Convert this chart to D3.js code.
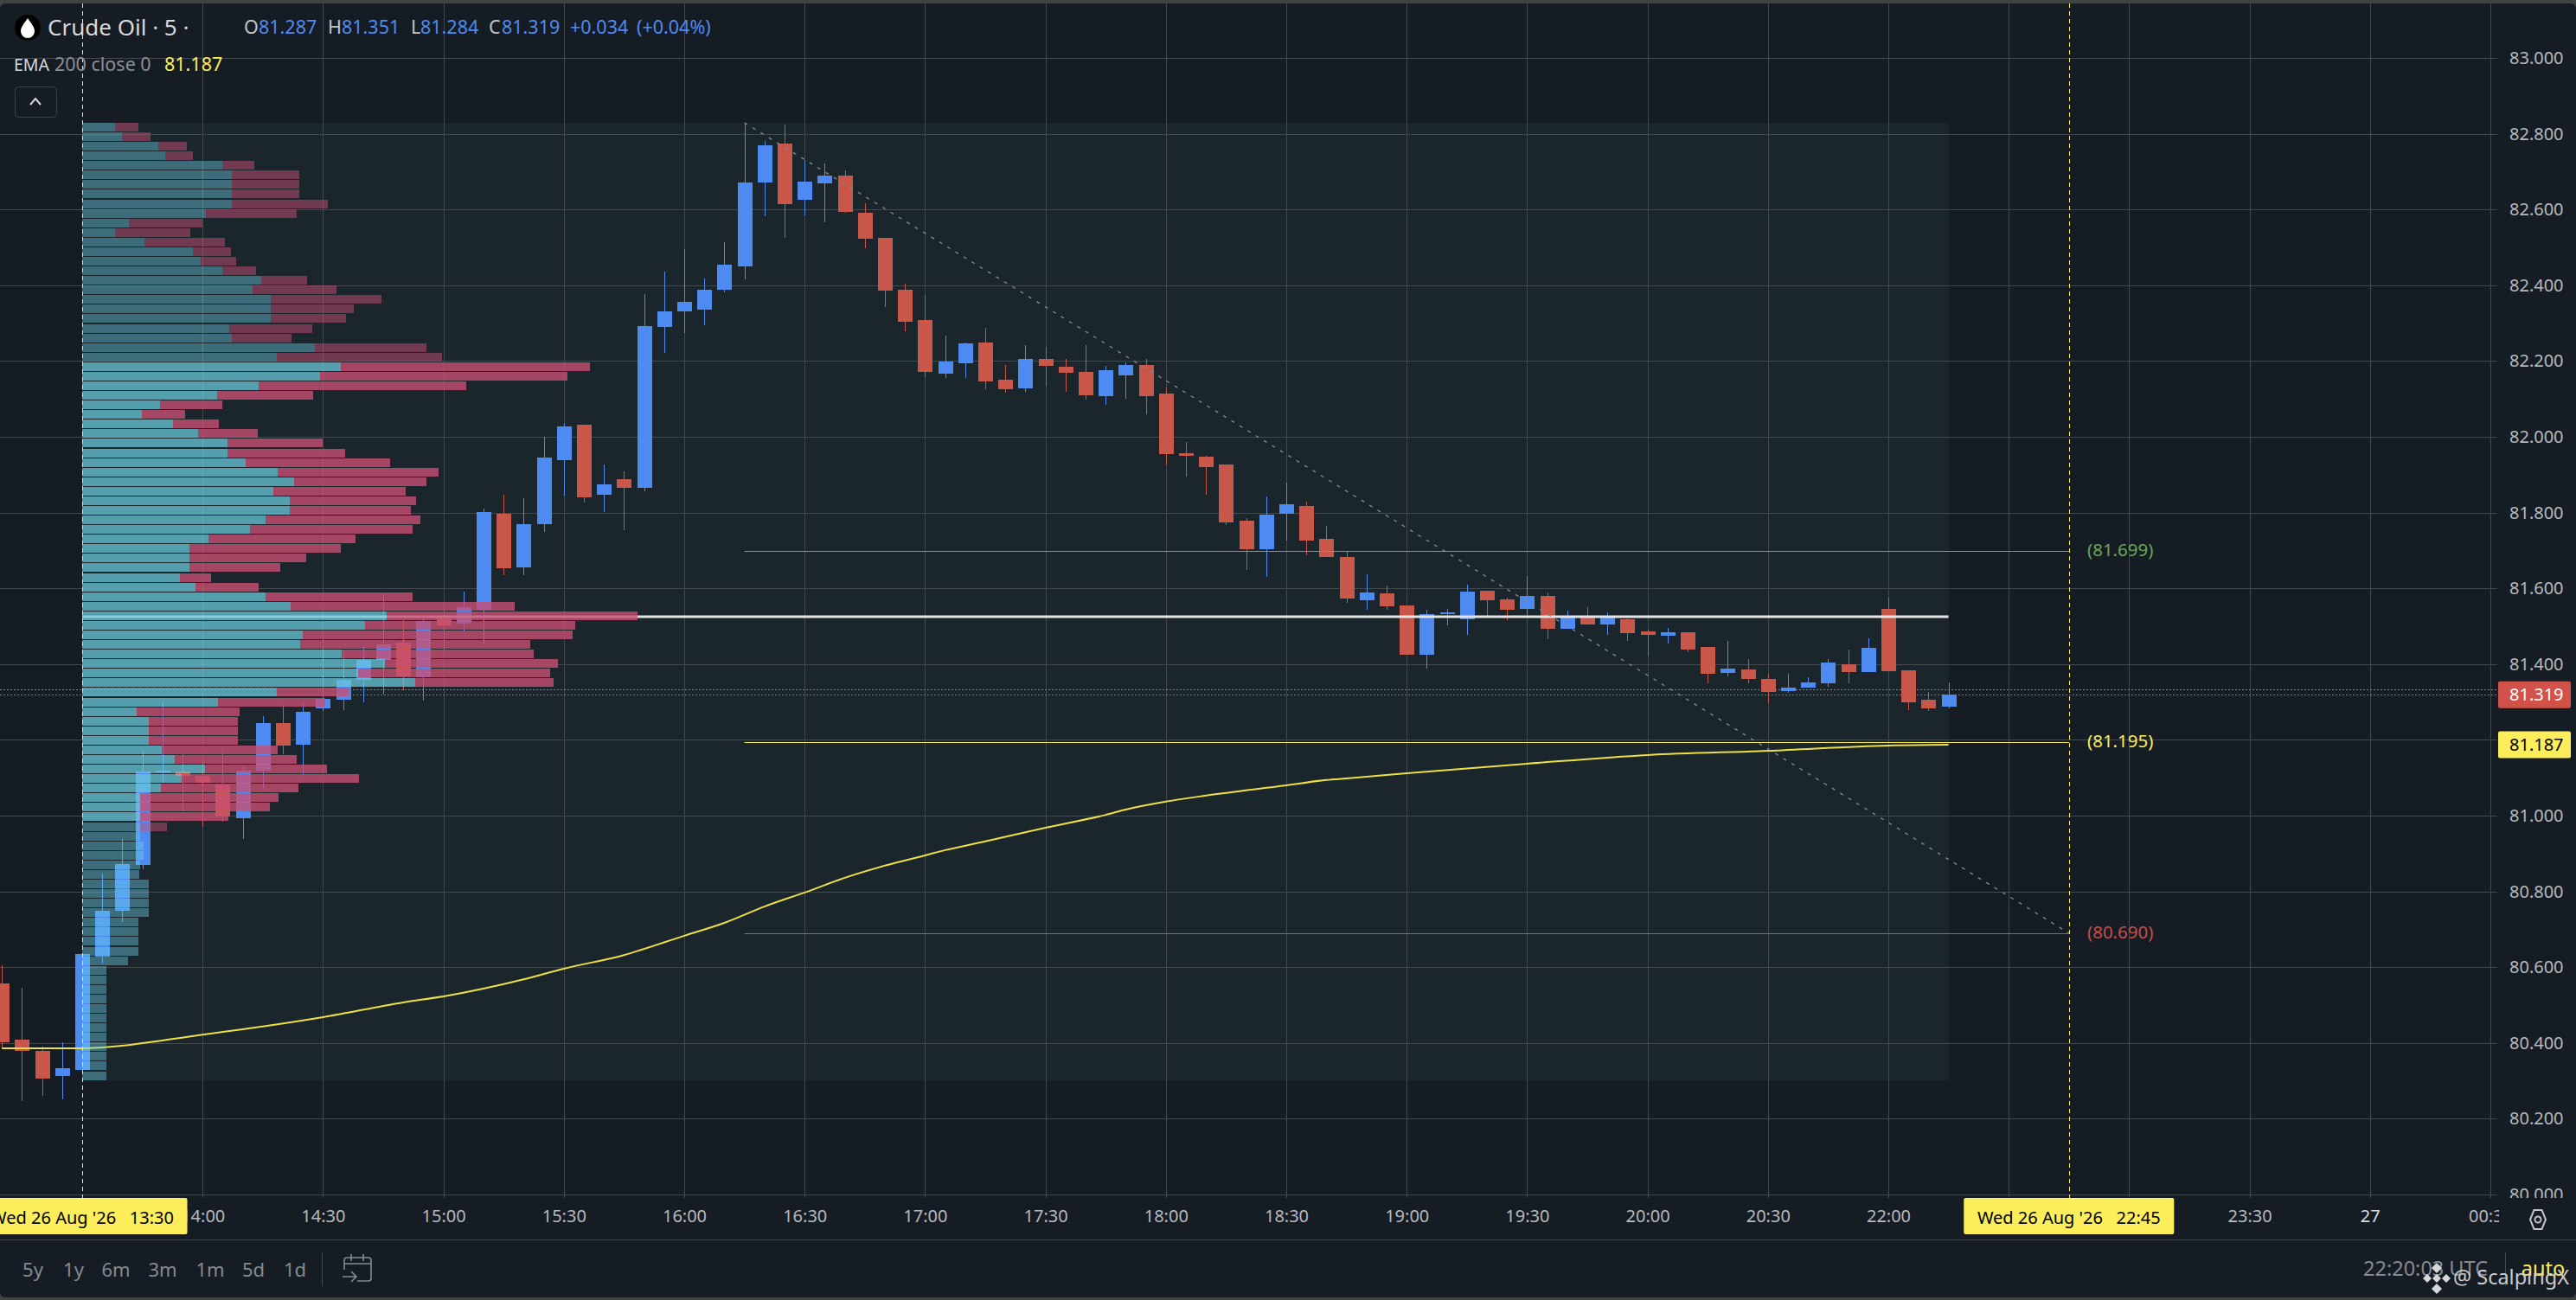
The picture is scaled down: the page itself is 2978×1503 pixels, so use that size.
<!DOCTYPE html>
<html>
<head>
<meta charset="utf-8">
<title>Crude Oil 5</title>
<script src="https://d3js.org/d3.v7.min.js"></script>
<style>
	html, body { margin: 0; padding: 0; background: #3f4342; overflow: hidden; }
	svg { display: block; }
	text { font-family: "Noto Sans", sans-serif; white-space: pre; }
</style>
</head>
<body>
<div id="chart"></div>
<script>
// candles, first one is 4 bars before 13:30
var firstBar = -4;
var opens = [80.557,80.409,80.379,80.313,80.329,80.628,80.749,80.870,81.114,81.116,81.105,81.082,80.993,81.119,81.244,81.187,81.283,81.306,81.358,81.411,81.457,81.365,81.521,81.507,81.543,81.797,81.655,81.769,81.938,82.032,81.847,81.888,81.865,82.290,82.331,82.336,82.388,82.450,82.671,82.774,82.626,82.669,82.689,82.591,82.525,82.388,82.308,82.167,82.194,82.249,82.151,82.128,82.205,82.185,82.171,82.107,82.162,82.189,82.114,81.957,81.947,81.927,81.779,81.703,81.797,81.817,81.731,81.683,81.569,81.587,81.555,81.425,81.532,81.518,81.594,81.571,81.546,81.580,81.493,81.527,81.505,81.518,81.486,81.475,81.484,81.445,81.377,81.386,81.361,81.329,81.338,81.349,81.400,81.379,81.546,81.384,81.306,81.287];
var highs = [80.605,80.546,80.390,80.402,80.635,80.847,80.938,81.171,81.301,81.162,81.144,81.176,81.130,81.263,81.292,81.299,81.477,81.434,81.445,81.584,81.516,81.521,81.555,81.591,81.811,81.847,81.838,82.000,82.037,82.032,81.927,81.909,82.377,82.436,82.495,82.418,82.514,82.829,82.781,82.824,82.731,82.721,82.703,82.616,82.525,82.404,82.374,82.267,82.249,82.288,82.189,82.242,82.237,82.205,82.242,82.187,82.196,82.205,82.130,81.986,81.950,81.927,81.785,81.842,81.879,81.829,81.765,81.696,81.637,81.607,81.555,81.543,81.546,81.610,81.594,81.575,81.632,81.589,81.541,81.550,81.537,81.521,81.491,81.495,81.484,81.445,81.461,81.413,81.374,81.374,81.365,81.413,81.438,81.468,81.575,81.384,81.327,81.351];
var lows = [80.386,80.247,80.260,80.251,80.329,80.610,80.719,80.858,81.087,81.011,80.970,80.984,80.938,81.068,81.162,81.105,81.276,81.279,81.299,81.320,81.331,81.304,81.434,81.486,81.452,81.635,81.635,81.749,81.845,81.826,81.801,81.753,81.856,82.221,82.274,82.295,82.381,82.416,82.582,82.525,82.584,82.566,82.591,82.498,82.342,82.279,82.158,82.155,82.155,82.126,82.116,82.119,82.135,82.119,82.098,82.084,82.100,82.059,81.927,81.895,81.847,81.767,81.648,81.630,81.726,81.687,81.683,81.562,81.543,81.543,81.425,81.388,81.502,81.477,81.527,81.516,81.530,81.466,81.493,81.505,81.477,81.461,81.422,81.454,81.432,81.349,81.368,81.349,81.297,81.324,81.338,81.340,81.349,81.379,81.381,81.279,81.276,81.284];
var closes = [80.402,80.379,80.306,80.333,80.635,80.749,80.872,81.116,81.119,81.105,81.087,80.998,81.119,81.244,81.185,81.274,81.308,81.358,81.411,81.452,81.368,81.514,81.502,81.550,81.801,81.653,81.769,81.945,82.027,81.840,81.874,81.865,82.292,82.331,82.356,82.388,82.454,82.671,82.769,82.614,82.674,82.689,82.594,82.523,82.386,82.304,82.171,82.199,82.247,82.146,82.126,82.205,82.187,82.169,82.110,82.176,82.189,82.107,81.954,81.950,81.920,81.774,81.703,81.795,81.822,81.726,81.683,81.573,81.589,81.553,81.425,81.532,81.537,81.591,81.569,81.543,81.580,81.493,81.527,81.505,81.527,81.482,81.477,81.484,81.438,81.374,81.388,81.361,81.327,81.338,81.352,81.404,81.379,81.443,81.381,81.299,81.283,81.319];

var emaBars = [-4,0,1,6,8,12,16,18,22,24,27,30,32,34,35,36,38,40,42,43,45,48,51,52,54,56,60,62,63,66,72,78,84,90,93];
var emaValues = [80.386,80.386,80.388,80.422,80.436,80.468,80.507,80.523,80.568,80.596,80.632,80.683,80.717,80.760,80.779,80.797,80.836,80.868,80.895,80.909,80.932,80.968,81.002,81.016,81.037,81.053,81.080,81.094,81.098,81.112,81.137,81.160,81.171,81.185,81.187];

// volume profile, top row first
var upVolume = [38,46,88,96,162,173,173,173,173,143,54,38,72,128,137,162,207,197,218,218,218,170,173,269,225,299,275,204,156,90,69,105,134,168,168,189,226,245,221,240,240,212,194,146,124,124,124,113,131,212,241,352,327,255,252,300,350,319,385,225,157,63,77,77,77,92,107,142,115,91,67,67,67,67,67,71,71,67,66,77,77,77,77,65,65,65,65,53,28,28,28,28,28,28,28,28,28,28,28,28];
var downVolume = [27,33,33,32,37,78,78,78,111,105,85,87,93,44,41,39,53,97,128,96,87,96,69,129,191,288,286,240,111,72,50,53,69,110,136,167,186,153,153,146,140,179,188,170,175,135,105,36,73,170,259,290,243,312,266,222,200,222,160,84,124,119,103,103,103,134,141,141,205,159,160,150,102,31,0,0,0,0,0,0,0,0,0,0,0,0,0,0,0,0,0,0,0,0,0,0,0,0,0,0];
var valueAreaRows = [25, 72];
var profileRange = [82.829, 80.300];
var pocPrice = 81.525;

// levels and the drawing
var levelPrices = [81.699, 81.195, 80.690];
var levelLabels = ["(81.699)", "(81.195)", "(80.690)"];
var levelColors = ["#6aa659", "#fcee5a", "#c44f4b"];
var levelStartBar = 33;
var rangeEndBar = 99;
var rangeStartBar = 0;
var diagonalBars = [33, 99];
var diagonalPrices = [82.829, 80.690];

// axes
var priceTicks = [80.0,80.2,80.4,80.6,80.8,81.0,81.2,81.4,81.6,81.8,82.0,82.2,82.4,82.6,82.8,83.0];
var timeTickBars = [6,12,18,24,30,36,42,48,54,60,66,72,78,84,90,96,102,108,114,120];
var timeTickLabels = ["14:00","14:30","15:00","15:30","16:00","16:30","17:00","17:30","18:00","18:30","19:00","19:30","20:00","20:30","22:00","22:30","23:00","23:30","27","00:30"];
var rangeButtons = ["5y","1y","6m","3m","1m","5d","1d"];
var rangeButtonX = [38,85,134,188,243,293,341];

var lastPrice = 81.319, prevClosePrice = 81.333, emaPrice = 81.187;

var width = 2978, height = 1503,
	paneRight = 2887, paneTop = 4, paneBottom = 1385, axisBottom = 1433;

var colors = {
	bg: "#161c24", box: "#1b252c", grid: "#42484e", text: "#b6b9bd", dim: "#858a8f",
	up: "#4d8bf3", down: "#c95749", yellow: "#fcee5a", price: "#4d8bf3"
};

var x = d3.scaleLinear().domain([0, 99]).range([95, 2391.8]);
var y = d3.scaleLinear().domain([80, 83]).range([1381, 67]);
var rowY = d3.scaleLinear().domain([0, upVolume.length]).range([y(profileRange[0]), y(profileRange[1])]);
var vol = d3.scaleLinear().domain([0, 642]).range([0, 642]);

var svg = d3.select("#chart").append("svg")
	.attr("width", width)
	.attr("height", height);

svg.append("rect")
	.attr("x", 0).attr("y", paneTop)
	.attr("width", width).attr("height", 1496)
	.attr("rx", 6)
	.attr("fill", colors.bg);

// range box of the profile
svg.append("rect")
	.attr("x", x(rangeStartBar))
	.attr("y", rowY(0))
	.attr("width", x(93) - x(rangeStartBar))
	.attr("height", rowY(upVolume.length) - rowY(0))
	.attr("fill", colors.box);

// grid
var gridY = svg.append("g")
	.attr("class", "grid")
	.attr("transform", "translate(" + paneRight + ",0)")
	.call(d3.axisLeft(y).tickValues(priceTicks).tickSize(paneRight).tickFormat(""));
var gridX = svg.append("g")
	.attr("class", "grid")
	.attr("transform", "translate(0," + paneBottom + ")")
	.call(d3.axisTop(x).tickValues(timeTickBars).tickSize(paneBottom - paneTop).tickFormat(""));
svg.selectAll(".grid .domain").remove();
svg.selectAll(".grid line")
	.attr("stroke", colors.grid)
	.attr("stroke-width", 1)
	.attr("shape-rendering", "crispEdges");

// last price dotted lines
[[prevClosePrice, colors.price], [lastPrice, "#d2584c"]].forEach(function(p) {
	svg.append("line")
		.attr("x1", 0).attr("x2", paneRight)
		.attr("y1", Math.round(y(p[0])) + 0.5).attr("y2", Math.round(y(p[0])) + 0.5)
		.attr("stroke", p[1])
		.attr("stroke-width", 1)
		.attr("stroke-dasharray", "2,2");
});

// candles
var candles = opens.map(function(o, i) {
	return { bar: firstBar + i, open: o, high: highs[i], low: lows[i], close: closes[i] };
});
var candle = svg.append("g")
	.attr("shape-rendering", "crispEdges")
	.selectAll("g")
	.data(candles)
	.enter().append("g");
candle.append("line")
	.attr("x1", function(d) { return Math.round(x(d.bar)) + 0.5; })
	.attr("x2", function(d) { return Math.round(x(d.bar)) + 0.5; })
	.attr("y1", function(d) { return y(d.high); })
	.attr("y2", function(d) { return y(d.low); })
	.attr("stroke", function(d) { return d.close >= d.open ? colors.up : colors.down; });
candle.append("rect")
	.attr("x", function(d) { return Math.round(x(d.bar)) - 8; })
	.attr("width", 17)
	.attr("y", function(d) { return y(Math.max(d.open, d.close)); })
	.attr("height", function(d) { return Math.max(1, Math.abs(y(d.open) - y(d.close))); })
	.attr("fill", function(d) { return d.close >= d.open ? colors.up : colors.down; });

// ema
svg.append("path")
	.datum(emaBars)
	.attr("fill", "none")
	.attr("stroke", "#ecdf48")
	.attr("stroke-width", 2)
	.attr("d", d3.line()
		.curve(d3.curveMonotoneX)
		.x(function(d) { return x(d); })
		.y(function(d, i) { return y(emaValues[i]); }));

// point of control
svg.append("line")
	.attr("x1", x(rangeStartBar)).attr("x2", x(93))
	.attr("y1", y(pocPrice)).attr("y2", y(pocPrice))
	.attr("stroke", "#e4e4e4")
	.attr("stroke-width", 3);

// levels
var level = svg.append("g").selectAll("g")
	.data(levelPrices)
	.enter().append("g");
level.append("line")
	.attr("x1", x(levelStartBar))
	.attr("x2", x(rangeEndBar))
	.attr("y1", function(d) { return Math.round(y(d)) + 0.5; })
	.attr("y2", function(d) { return Math.round(y(d)) + 0.5; })
	.attr("stroke", function(d, i) { return levelColors[i]; })
	.attr("stroke-width", 1);
level.append("text")
	.attr("x", 2413)
	.attr("y", function(d) { return y(d) - 1; })
	.attr("dy", "0.35em")
	.attr("font-size", 20.5)
	.attr("fill", function(d, i) { return levelColors[i]; })
	.text(function(d, i) { return levelLabels[i]; });

// diagonal drawing
svg.append("line")
	.attr("x1", x(diagonalBars[0])).attr("y1", y(diagonalPrices[0]))
	.attr("x2", x(diagonalBars[1])).attr("y2", y(diagonalPrices[1]))
	.attr("stroke", "#80868b")
	.attr("stroke-width", 1.4)
	.attr("stroke-dasharray", "4,7");

// volume profile sits over the candles, rows outside the value area are only fainter
var inValue = function(r) { return r >= valueAreaRows[0] && r <= valueAreaRows[1]; };
var profile = svg.append("g")
	.attr("shape-rendering", "crispEdges");
profile.selectAll("rect.up")
	.data(upVolume)
	.enter().append("rect")
	.attr("class", "up")
	.attr("x", x(rangeStartBar))
	.attr("y", function(d, i) { return rowY(i); })
	.attr("width", function(d) { return vol(d); })
	.attr("height", 10)
	.attr("fill", function(d, i) { return inValue(i) ? "rgba(105,199,217,0.75)" : "rgba(110,210,230,0.42)"; });
profile.selectAll("rect.down")
	.data(downVolume)
	.enter().append("rect")
	.attr("class", "down")
	.attr("x", function(d, i) { return x(rangeStartBar) + vol(upVolume[i]); })
	.attr("y", function(d, i) { return rowY(i); })
	.attr("width", function(d) { return vol(d); })
	.attr("height", 10)
	.attr("fill", function(d, i) { return inValue(i) ? "rgba(200,79,115,0.8)" : "rgba(200,79,115,0.5)"; });

// time range verticals
[rangeStartBar, rangeEndBar].forEach(function(b) {
	svg.append("line")
		.attr("x1", Math.round(x(b)) + 0.5).attr("x2", Math.round(x(b)) + 0.5)
		.attr("y1", paneTop).attr("y2", paneBottom)
		.attr("stroke", colors.yellow)
		.attr("stroke-dasharray", "5,4");
});

// price axis
var priceAxis = svg.append("g")
	.attr("transform", "translate(" + paneRight + ",0)")
	.call(d3.axisRight(y).tickValues(priceTicks).tickSize(0).tickPadding(14).tickFormat(d3.format(".3f")));
priceAxis.select(".domain").remove();
priceAxis.selectAll("text")
	.attr("font-family", '"Noto Sans", sans-serif')
	.attr("font-size", 20)
	.attr("fill", colors.text);

function priceLabel(price, fill, textFill) {
	svg.append("rect")
		.attr("x", 2888).attr("y", y(price) - 15.5)
		.attr("width", 84).attr("height", 31)
		.attr("rx", 2)
		.attr("fill", fill);
	svg.append("text")
		.attr("x", 2901).attr("y", y(price))
		.attr("dy", "0.35em")
		.attr("font-size", 20)
		.attr("fill", textFill)
		.text(d3.format(".3f")(price));
}
priceLabel(lastPrice, "#d2524a", "#ffffff");
priceLabel(emaPrice, colors.yellow, "#000000");

// time axis strip
svg.append("rect")
	.attr("x", 0).attr("y", paneBottom)
	.attr("width", width).attr("height", axisBottom - paneBottom)
	.attr("fill", colors.bg);
var timeAxis = svg.append("g")
	.attr("transform", "translate(0," + paneBottom + ")")
	.call(d3.axisBottom(x).tickValues(timeTickBars).tickSize(0).tickPadding(14)
		.tickFormat(function(d, i) { return timeTickLabels[i]; }));
timeAxis.select(".domain").remove();
timeAxis.selectAll("text")
	.attr("font-family", '"Noto Sans", sans-serif')
	.attr("font-size", 20)
	.attr("fill", function(d) { return d === 114 ? "#d8dadd" : colors.text; });

svg.append("rect")
	.attr("x", 2889).attr("y", paneBottom)
	.attr("width", 89).attr("height", axisBottom - paneBottom)
	.attr("fill", colors.bg);

// crosshair style time labels
function timeLabel(bar, txt) {
	svg.append("rect")
		.attr("x", x(bar) - 121.5).attr("y", paneBottom)
		.attr("width", 243).attr("height", 42)
		.attr("rx", 2)
		.attr("fill", colors.yellow);
	svg.append("text")
		.attr("x", x(bar)).attr("y", 1408)
		.attr("dy", "0.35em")
		.attr("text-anchor", "middle")
		.attr("font-size", 20)
		.attr("fill", "#000")
		.text(txt);
}
timeLabel(rangeStartBar, "Wed 26 Aug '26   13:30");
timeLabel(rangeEndBar, "Wed 26 Aug '26   22:45");

// settings hexagon
svg.append("polygon")
	.attr("points", "2925,1410 2929.5,1399 2938.5,1399 2943,1410 2938.5,1421 2929.5,1421")
	.attr("fill", "none").attr("stroke", "#c2c5c8").attr("stroke-width", 2);
svg.append("circle")
	.attr("cx", 2934).attr("cy", 1410).attr("r", 3.5)
	.attr("fill", "none").attr("stroke", "#c2c5c8").attr("stroke-width", 2);

// bottom bar
svg.append("line")
	.attr("x1", 0).attr("x2", width)
	.attr("y1", axisBottom + 0.5).attr("y2", axisBottom + 0.5)
	.attr("stroke", colors.grid);
svg.selectAll("text.range")
	.data(rangeButtons)
	.enter().append("text")
	.attr("class", "range")
	.attr("x", function(d, i) { return rangeButtonX[i]; })
	.attr("y", 1468)
	.attr("dy", "0.35em")
	.attr("text-anchor", "middle")
	.attr("font-size", 22)
	.attr("fill", colors.dim)
	.text(function(d) { return d; });
svg.append("line")
	.attr("x1", 372.5).attr("x2", 372.5).attr("y1", 1448).attr("y2", 1487)
	.attr("stroke", colors.grid);
svg.append("path")
	.attr("d", "M398,1468 V1457 Q398,1454 401,1454 H426 Q429,1454 429,1457 V1478 Q429,1481 426,1481 H413 M398,1461 H429 M406,1450 V1458 M420,1450 V1458 M396,1476 H412 M406,1470 L412,1476 L406,1482")
	.attr("fill", "none")
	.attr("stroke", colors.dim)
	.attr("stroke-width", 1.6);

svg.append("text")
	.attr("x", 2876).attr("y", 1467)
	.attr("dy", "0.35em")
	.attr("text-anchor", "end")
	.attr("font-size", 23.5)
	.attr("fill", "#858a8f")
	.text("22:20:03 UTC");
svg.append("line")
	.attr("x1", 2896.5).attr("x2", 2896.5).attr("y1", 1448).attr("y2", 1487)
	.attr("stroke", colors.grid);
svg.append("text")
	.attr("x", 2940).attr("y", 1467)
	.attr("dy", "0.35em")
	.attr("text-anchor", "middle")
	.attr("font-size", 23.5)
	.attr("fill", colors.yellow)
	.text("auto");

// watermark
[[2817, 1466, 6], [2806, 1478, 5], [2828, 1478, 5], [2817, 1478, 5], [2817, 1490, 6]].forEach(function(m) {
	svg.append("path")
		.attr("d", "M" + m[0] + "," + (m[1] - m[2]) + " L" + (m[0] + m[2]) + "," + m[1] + " L" + m[0] + "," + (m[1] + m[2]) + " L" + (m[0] - m[2]) + "," + m[1] + " Z")
		.attr("fill", "#d5d7da");
});
svg.append("text")
	.attr("x", 2836).attr("y", 1477)
	.attr("dy", "0.35em")
	.attr("font-size", 23.5)
	.attr("fill", "#c9cbce")
	.text("@ ScalpingX");

// header
svg.append("circle").attr("cx", 32).attr("cy", 32).attr("r", 15).attr("fill", "#000");
svg.append("path")
	.attr("d", "M32,21 C36,27 40,31 40,36 A8,8 0 0 1 24,36 C24,31 28,27 32,21 Z")
	.attr("fill", "#fff");
svg.append("text")
	.attr("x", 55).attr("y", 41)
	.attr("font-size", 26)
	.attr("fill", "#d6d8db")
	.text("Crude Oil · 5 ·");

var legendItems = [
	["O", 282, "#c2c5c8"], ["81.287", 299, colors.up],
	["H", 379, "#c2c5c8"], ["81.351", 395, colors.up],
	["L", 475, "#c2c5c8"], ["81.284", 486, colors.up],
	["C", 565, "#c2c5c8"], ["81.319", 580, colors.up],
	["+0.034", 659, colors.up], ["(+0.04%)", 736, colors.up]
];
svg.selectAll("text.legend")
	.data(legendItems)
	.enter().append("text")
	.attr("class", "legend")
	.attr("x", function(d) { return d[1]; })
	.attr("y", 39)
	.attr("font-size", 21.5)
	.attr("fill", function(d) { return d[2]; })
	.text(function(d) { return d[0]; });

svg.append("text").attr("x", 16).attr("y", 82).attr("font-size", 19.5).attr("fill", "#d6d8db").text("EMA");
svg.append("text").attr("x", 63).attr("y", 82).attr("font-size", 21.5).attr("fill", "#8b9095").text("200 close 0");
svg.append("text").attr("x", 190).attr("y", 82).attr("font-size", 21.5).attr("fill", colors.yellow).text("81.187");

svg.append("rect")
	.attr("x", 17.5).attr("y", 100.5)
	.attr("width", 48).attr("height", 35)
	.attr("rx", 4)
	.attr("fill", "#161c24")
	.attr("stroke", "#3b4148");
svg.append("path")
	.attr("d", "M35,121 L41,114 L47,121")
	.attr("fill", "none")
	.attr("stroke", "#d6d8db")
	.attr("stroke-width", 2);
</script>
</body>
</html>
